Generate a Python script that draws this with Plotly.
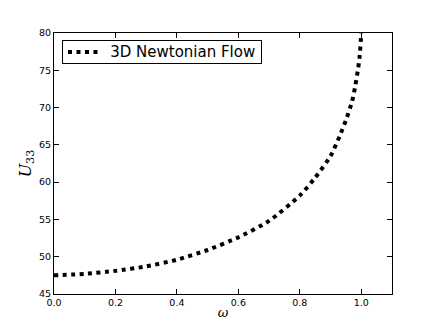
import plotly.graph_objects as go

omega = [0.0, 0.1, 0.2, 0.3, 0.4, 0.5, 0.6, 0.7, 0.8, 0.85, 0.9, 0.93, 0.95, 0.97, 0.98, 0.99, 0.995, 1.0]
u33 = [47.5, 47.7, 48.1, 48.7, 49.6, 50.9, 52.6, 54.8, 58.2, 60.6, 63.5, 66.2, 68.3, 70.8, 72.8, 75.3, 77.0, 80.0]
series_name = "3D Newtonian Flow"
x_ticks = [0.0, 0.2, 0.4, 0.6, 0.8, 1.0]
x_tick_labels = ["0.0", "0.2", "0.4", "0.6", "0.8", "1.0"]
y_ticks = [45, 50, 55, 60, 65, 70, 75, 80]

DASH = "4px,4.5px"

fig = go.Figure()
fig.add_trace(go.Scatter(
    x=omega, y=u33, mode="lines", name=series_name, showlegend=False,
    line=dict(color="black", width=4, dash=DASH, shape="spline", smoothing=0.6),
))

# legend box (text) and sample line
fig.add_annotation(
    xref="paper", yref="paper", x=0.0237, y=0.9732, xanchor="left", yanchor="top",
    text=series_name + "&nbsp;", showarrow=False, align="right", width=196, height=20,
    borderpad=1, borderwidth=1, bordercolor="black", bgcolor="rgba(0,0,0,0)",
    font=dict(family="DejaVu Sans", size=15, color="black"),
)
fig.add_shape(
    type="line", xref="paper", yref="paper", x0=0.0414, x1=0.130, y0=0.927, y1=0.927,
    line=dict(color="black", width=4, dash=DASH), layer="above",
)

axis_common = dict(
    showline=True, linecolor="black", linewidth=1, mirror="ticks",
    ticks="inside", ticklen=5, tickwidth=1, tickcolor="black",
    showgrid=False, zeroline=False,
    tickfont=dict(family="DejaVu Sans", size=9.5, color="black"),
)

fig.update_layout(
    width=436, height=327,
    margin=dict(l=46, r=52, t=25, b=41),
    paper_bgcolor="white", plot_bgcolor="white",
    showlegend=False,
    xaxis=dict(range=[0, 1.1], tickvals=x_ticks, ticktext=x_tick_labels,
               title=dict(text="<i>ω</i>", font=dict(family="DejaVu Serif", size=13, color="black"), standoff=0),
               **axis_common),
    yaxis=dict(range=[45, 80], tickvals=y_ticks,
               title=dict(text="<i>U</i><sub>33</sub>", font=dict(family="DejaVu Serif", size=16, color="black"), standoff=3),
               **axis_common),
)

fig.write_html("out.html")
